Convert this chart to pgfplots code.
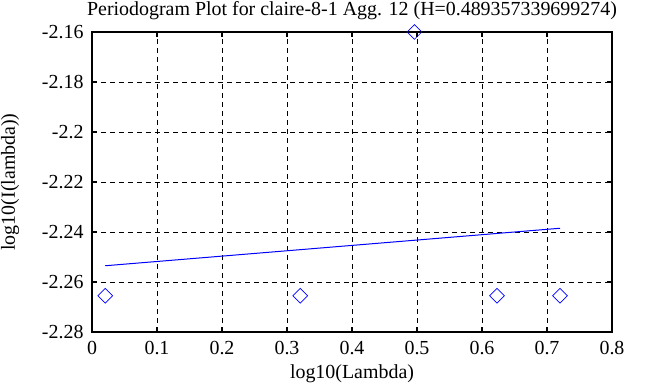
\documentclass[border=0pt]{standalone}
\usepackage{fontspec}
\setmainfont{Liberation Serif}
\usepackage{pgfplots}
\pgfplotsset{compat=1.18}
\begin{document}
\begin{tikzpicture}
\begin{axis}[
  scale only axis, width=520bp, height=300bp,
  xmin=0, xmax=0.8, ymin=-2.28, ymax=-2.16,
  xtick={0,0.1,0.2,0.3,0.4,0.5,0.6,0.7,0.8},
  xticklabels={0,0.1,0.2,0.3,0.4,0.5,0.6,0.7,0.8},
  ytick={-2.28,-2.26,-2.24,-2.22,-2.2,-2.18,-2.16},
  yticklabels={-2.28,-2.26,-2.24,-2.22,-2.2,-2.18,-2.16},
  grid=major,
  major grid style={black, dash pattern=on 5bp off 4bp, line width=0.8bp},
  axis line style={black, line width=1.5bp},
  major tick style={black, line width=1.5bp},
  major tick length=5bp,
  tick align=inside,
  font=\fontsize{20}{24}\selectfont,
  ticklabel style={font=\fontsize{20}{24}\selectfont},
  xticklabel style={yshift=-6bp},
  yticklabel style={xshift=-5bp},
  title={Periodogram Plot for claire-8-1 Agg. 12 (H=0.489357339699274)},
  every axis title/.style={at={(axis description cs:0.5,1)}, anchor=base, yshift=16bp},
  xlabel={log10(Lambda)},
  every axis x label/.style={at={(axis description cs:0.5,0)}, anchor=base, yshift=-46bp},
  ylabel={log10(I(lambda))},
  every axis y label/.style={at={(axis description cs:0,0.5)}, rotate=90, anchor=base, yshift=77bp},
  clip=false,
]
\addplot[only marks, mark=square, mark size=5.2bp, mark options={rotate=45, blue, line width=0.7bp, fill=none}, draw=blue] coordinates {
  (0.0204,-2.2655) (0.3205,-2.2655) (0.4960,-2.1600) (0.6230,-2.2655) (0.7200,-2.2655)
};
\addplot[blue, line width=1bp, no marks] coordinates {
  (0.0204,-2.2535) (0.7200,-2.2385)
};
\coordinate (sw) at (rel axis cs:0,0);
\coordinate (ne) at (rel axis cs:1,1);
\end{axis}
\pgfresetboundingbox
\path[use as bounding box] ([shift={(-92bp,-55bp)}]sw) rectangle ([shift={(51bp,32bp)}]ne);
\end{tikzpicture}
\end{document}
